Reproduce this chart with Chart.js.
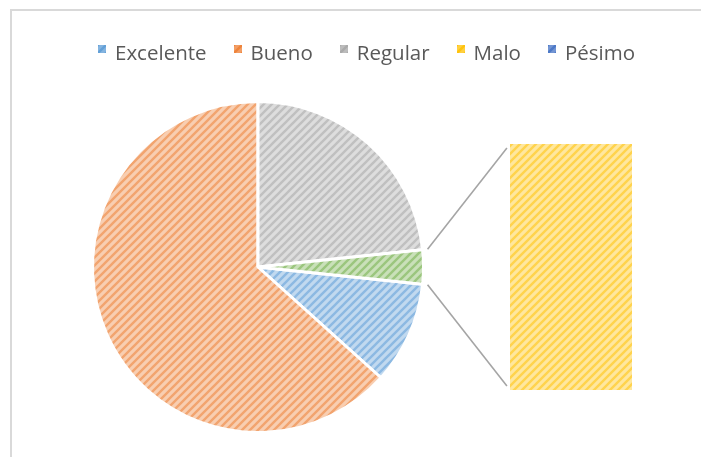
<!DOCTYPE html>
<html>
<head>
<meta charset="utf-8">
<script src="https://cdn.jsdelivr.net/npm/chart.js@4/dist/chart.umd.min.js"></script>
<style>
  html, body { margin: 0; padding: 0; background: #fff; }
  #wrap { position: relative; width: 701px; height: 457px; overflow: hidden; background: #fff; }
  #frame { position: absolute; left: 10px; top: 9px; width: 720px; height: 480px; border: 2px solid #D9D9D9; box-sizing: border-box; }
  canvas { position: absolute; left: 0; top: 0; }
  #legend { position: absolute; left: 98px; top: 38px; display: flex; gap: 27px;
    font-family: "Open Sans", sans-serif; font-size: 20.5px; color: #595959; }
  #legend .item { display: flex; align-items: center; white-space: nowrap; }
  #legend canvas.box { position: static; width: 8px; height: 8px; margin-right: 9px; margin-top: -6px; }
</style>
</head>
<body>
<div id="wrap">
  <div id="frame"></div>
  <canvas id="pieChart" width="701" height="457"></canvas>
  <canvas id="barChart" width="701" height="457"></canvas>
  <div id="legend"></div>
</div>
<script>
// datos
const categories = ['Excelente', 'Bueno', 'Regular', 'Malo', 'Pésimo'];
const values = [9, 57, 21, 3, 0];
const colors = ['#5B9BD5', '#ED7D31', '#A5A5A5', '#FFC000', '#4472C4'];
const otherLabel = 'Otros';
const otherColor = '#70AD47';
const barItems = 2; // las dos últimas categorías van a la barra

// mezcla un color con blanco
function mix(hex, w) {
    const n = parseInt(hex.slice(1), 16);
    const r = (n >> 16) & 255, g = (n >> 8) & 255, b = n & 255;
    const m = v => Math.round(v + (255 - v) * w);
    return 'rgb(' + m(r) + ',' + m(g) + ',' + m(b) + ')';
}

// relleno de trama diagonal
function hatch(ctx, color, bg = 0.62, fg = 0.3) {
    const c = document.createElement('canvas');
    c.width = 8; c.height = 8;
    const g = c.getContext('2d');
    g.fillStyle = mix(color, bg);
    g.fillRect(0, 0, 8, 8);
    g.strokeStyle = mix(color, fg);
    g.lineWidth = 2.4;
    g.beginPath();
    g.moveTo(-2, 2); g.lineTo(2, -2);
    g.moveTo(0, 8); g.lineTo(8, 0);
    g.moveTo(6, 10); g.lineTo(10, 6);
    g.stroke();
    return ctx.createPattern(c, 'repeat');
}

const pieLabels = categories.slice(0, categories.length - barItems).concat([otherLabel]);
const otherValue = values.slice(-barItems).reduce((a, b) => a + b, 0);
const pieValues = values.slice(0, values.length - barItems).concat([otherValue]);
const pieColors = colors.slice(0, colors.length - barItems).concat([otherColor]);
const total = pieValues.reduce((a, b) => a + b, 0);

// leyenda
const legend = document.getElementById('legend');
categories.forEach((name, i) => {
    const item = document.createElement('div');
    item.className = 'item';
    const box = document.createElement('canvas');
    box.className = 'box';
    box.width = 8; box.height = 8;
    const bctx = box.getContext('2d');
    bctx.fillStyle = hatch(bctx, colors[i], 0.25, 0.05);
    bctx.fillRect(0, 0, 8, 8);
    item.appendChild(box);
    const txt = document.createElement('span');
    txt.textContent = name;
    item.appendChild(txt);
    legend.appendChild(item);
});

// gráfico circular
const pieCtx = document.getElementById('pieChart').getContext('2d');
const pieChart = new Chart(pieCtx, {
    type: 'pie',
    data: {
        labels: pieLabels,
        datasets: [{
            data: pieValues,
            backgroundColor: pieColors.map(c => hatch(pieCtx, c)),
            borderColor: '#ffffff',
            borderWidth: 3
        }]
    },
    options: {
        responsive: false,
        animation: false,
        rotation: 90 + otherValue / total * 180,
        layout: { padding: { left: 91, right: 276, top: 100, bottom: 23 } },
        plugins: {
            legend: { display: false },
            tooltip: { enabled: false }
        }
    }
});

// líneas de conexión entre el sector "Otros" y la barra
const connectors = {
    id: 'connectors',
    afterDraw(chart) {
        const arc = pieChart.getDatasetMeta(0).data[pieValues.length - 1];
        const bar = chart.getDatasetMeta(0).data[0];
        const top = chart.getDatasetMeta(barItems - 1).data[0];
        const r = arc.outerRadius + 5;
        const left = bar.x - bar.width / 2;
        const ends = [
            [arc.startAngle, left, top.y],
            [arc.endAngle, left, bar.base]
        ];
        const ctx = chart.ctx;
        ctx.save();
        ctx.strokeStyle = '#A5A5A5';
        ctx.lineWidth = 1.6;
        ends.forEach(([a, bx, by]) => {
            const x0 = arc.x + r * Math.cos(a);
            const y0 = arc.y + r * Math.sin(a);
            const len = Math.hypot(bx - x0, by - y0);
            const x1 = bx - (bx - x0) / len * 5;
            const y1 = by - (by - y0) / len * 5;
            ctx.beginPath();
            ctx.moveTo(x0, y0);
            ctx.lineTo(x1, y1);
            ctx.stroke();
        });
        ctx.restore();
    }
};

// barra apilada
const barCtx = document.getElementById('barChart').getContext('2d');
new Chart(barCtx, {
    type: 'bar',
    data: {
        labels: [otherLabel],
        datasets: categories.slice(-barItems).map((name, i) => ({
            label: name,
            data: [values[values.length - barItems + i]],
            backgroundColor: hatch(barCtx, colors[colors.length - barItems + i]),
            borderWidth: 0,
            barPercentage: 1,
            categoryPercentage: 1
        }))
    },
    options: {
        responsive: false,
        animation: false,
        layout: { padding: { left: 510, right: 69, top: 144, bottom: 67 } },
        scales: {
            x: { display: false, stacked: true },
            y: { display: false, stacked: true, min: 0, max: otherValue }
        },
        plugins: {
            legend: { display: false },
            tooltip: { enabled: false }
        }
    },
    plugins: [connectors]
});
</script>
</body>
</html>
